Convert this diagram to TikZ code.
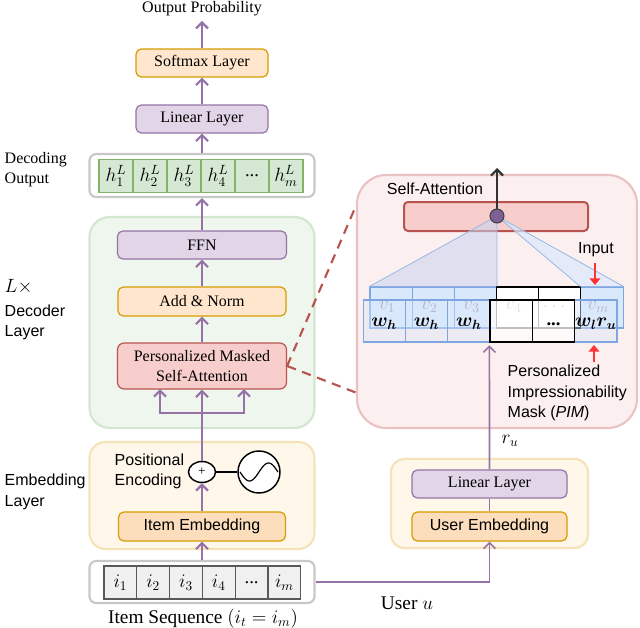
\documentclass[tikz,border=0pt]{standalone}
\usepackage{amsmath}
\usepackage{fontspec}
\setmainfont{Liberation Serif}
\setsansfont{Liberation Sans}
\usetikzlibrary{arrows.meta,calc,shapes.geometric}
\newcommand\myfs{\fontsize{12}{15.5}\selectfont}
\newcommand\mybig{\fontsize{14}{16}\selectfont}
\definecolor{purL}{HTML}{E1D5E7}
\definecolor{purD}{HTML}{9673A6}
\definecolor{oraL}{HTML}{FFE6CC}
\definecolor{oraM}{HTML}{FCDDBC}
\definecolor{oraD}{HTML}{D79B00}
\definecolor{grnL}{HTML}{D5E8D4}
\definecolor{grnD}{HTML}{82B366}
\definecolor{redL}{HTML}{F8CECC}
\definecolor{redD}{HTML}{B85450}
\definecolor{grayB}{HTML}{C8C8C8}
\definecolor{decF}{HTML}{EFF6EE}
\definecolor{decB}{HTML}{D3E6CF}
\definecolor{embF}{HTML}{FFF8EA}
\definecolor{embB}{HTML}{F5E2B8}
\definecolor{bigF}{HTML}{FCEFEF}
\definecolor{bigB}{HTML}{EAC2C2}
\definecolor{bluL}{HTML}{DAE8FC}
\definecolor{bluD}{HTML}{7EA6E0}
\definecolor{fanC}{HTML}{C8D2F0}
\definecolor{vgray}{HTML}{8C8CA8}
\definecolor{arrR}{HTML}{FF3333}
\definecolor{attnC}{HTML}{7E5F96}
\begin{document}
\begin{tikzpicture}[x=0.75pt,y=-0.75pt,font=\myfs,
  sz/.style 2 args={minimum width=#1*0.75pt,minimum height=#2*0.75pt,inner sep=0pt},
  sans/.style={font=\sffamily\myfs},
  big/.style={font=\mybig},
  purplebox/.style={draw=purD,fill=purL,line width=0.9pt,rounded corners=4pt},
  orangebox/.style={draw=oraD,fill=oraL,line width=0.9pt,rounded corners=4pt},
  orangembox/.style={draw=oraD,fill=oraM,line width=0.9pt,rounded corners=4pt},
  redbox/.style={draw=redD,fill=redL,line width=0.9pt,rounded corners=5pt},
  graybox/.style={draw=grayB,fill=white,line width=1.6pt,rounded corners=5pt},
  greencell/.style={draw=grnD,fill=grnL,line width=0.8pt},
  graycell/.style={draw=black!65,fill=black!6,line width=0.8pt},
  arr/.style={draw=purD,line width=1.6pt,-{Straight Barb[length=4.5pt,width=9pt]}},
  plain/.style={draw=purD,line width=1.6pt},
  thinarr/.style={draw=purD,line width=1.2pt,-{Straight Barb[length=4.5pt,width=9pt]}},
  darkarr/.style={draw=black!80,line width=1.6pt,-{Straight Barb[length=4.5pt,width=9pt]}},
  redarr/.style={draw=arrR,line width=2pt,-{Triangle[length=5pt,width=8pt]}},
  dashline/.style={draw=redD,line width=1.6pt,dash pattern=on 7pt off 5pt},
  bluecell/.style={draw=bluD,fill=bluL,line width=0.8pt},
  whitecell/.style={draw=black,fill=white,line width=0.9pt},
  fanline/.style={draw=bluD!80,line width=0.6pt}]
\useasboundingbox (0,0) rectangle (640,628);

% ===== left column =====
\node (outp) at (202,9) {Output Probability};
\node[sz={132}{28},orangebox] (soft) at (202,63) {Softmax Layer};
\node[sz={132}{28},purplebox] (lin) at (202,119) {Linear Layer};
\node[sz={225}{43},graybox] (dec) at (202,175.5) {};
\foreach \i in {0,...,5}
  \node[sz={34}{33},greencell] (h\i) at (116+34*\i,176) {};
\foreach \i/\t in {0/{h_1^L},1/{h_2^L},2/{h_3^L},3/{h_4^L},4/{\text{...}},5/{h_m^L}}
  \node[big,inner sep=0pt] (hl\i) at (h\i) {$\t$};

\node[sz={225}{211},draw=decB,fill=decF,line width=1.6pt,rounded corners=15pt] (declayer) at (202,322.5) {};
\node[sz={169}{28},purplebox] (ffn) at (202,245) {FFN};
\node[sz={168}{29},orangebox] (add) at (202,301.5) {Add \& Norm};
\node[sz={169}{46},redbox,align=center] (pmsa) at (202,366) {Personalized Masked\\Self-Attention};

\node[sz={225}{107},draw=embB,fill=embF,line width=1.6pt,rounded corners=12pt] (emb) at (202,495.5) {};
\node[sz={167}{29},orangembox,sans] (iemb) at (202,526.5) {Item Embedding};
\node[ellipse,sz={27}{21},draw=black,fill=white,line width=1.1pt,font=\fontsize{10}{12}\selectfont] (plus) at (202,472) {+};
\node[circle,minimum size=42*0.75pt,inner sep=0pt,draw=black,fill=white,line width=1.1pt] (sine) at (259,472) {};
\draw[line width=0.9pt] plot[domain=-19:19,samples=60] ({259+\x},{472-9*sin(9.47*\x)});
\draw[line width=1.8pt] (plus.east) -- (sine.west);
\node[sans,anchor=west,align=left] (pe) at (110,471.5) {Positional\\Encoding};

\node[sz={225}{42},graybox] (seq) at (202,582) {};
\foreach \i in {0,...,5}
  \node[sz={32.8}{33},graycell] (s\i) at (120.4+32.8*\i,582.5) {};
\foreach \i/\t in {0/{i_1},1/{i_2},2/{i_3},3/{i_4},4/{\text{...}},5/{i_m}}
  \node[big,inner sep=0pt] (sl\i) at (s\i) {$\t$};
\node[font=\fontsize{14.5}{17}\selectfont] (seqlab) at (203,619) {Item Sequence $(i_t = i_m)$};

% left labels
\node[anchor=west,align=left] (declab) at (0,169.5) {Decoding\\Output};
\node[anchor=west,font=\fontsize{15}{17}\selectfont] (lx) at (0,287) {$L\times$};
\node[sans,anchor=west,align=left] (dlab) at (0,322.5) {Decoder\\Layer};
\node[sans,anchor=west,align=left] (elab) at (0,492) {Embedding\\Layer};

% left arrows
\draw[arr] (soft.north) -- (outp.south);
\draw[arr] (lin.north) -- (soft.south);
\draw[arr] (dec.north) -- (lin.south);
\draw[arr] (ffn.north) -- (dec.south);
\draw[arr] (add.north) -- (ffn.south);
\draw[arr] (pmsa.north) -- (add.south);
\coordinate (jn) at (202,413);
\coordinate (pl) at (160,389);
\coordinate (pr) at (244,389);
\draw[plain] (plus.north) -- (jn);
\draw[arr] (jn) -- (pmsa.south);
\draw[arr] (jn) -| (pl);
\draw[arr] (jn) -| (pr);
\draw[arr] (iemb.north) -- (plus.south);
\draw[arr] (seq.north) -- (iemb.south);

% ===== user side =====
\node[sz={197}{89},draw=embB,fill=embF,line width=1.6pt,rounded corners=10pt] (ubox) at (489.5,503.5) {};
\node[sz={155}{28},purplebox] (ulin) at (489.5,484) {Linear Layer};
\node[sz={155}{29},orangembox,sans] (uemb) at (489.5,526.5) {User Embedding};
\node[font=\fontsize{14.5}{17}\selectfont] (ulab) at (407,603) {User $u$};
\draw[thinarr] (seq.east) -| (uemb.south);
\draw[draw=purD,line width=1.2pt] (uemb.north) -- (ulin.south);

% ===== zoom box =====
\node[sz={280}{253},draw=bigB,fill=bigF,line width=1.6pt,rounded corners=22pt] (bigbox) at (497,301.5) {};
\node[sz={184}{29},draw=redD,fill=redL,line width=1.5pt,rounded corners=3pt] (bar) at (496,216.5) {};
\node[sans] (salab) at (435,189) {Self-Attention};
\coordinate (satop) at (497,168);
\coordinate (attnc) at (497,216);

% back row
\foreach \i in {1,2,3,6}
  \node[sz={42.17}{41},bluecell] (b\i) at (391.1+42.17*\i-42.17,307.5) {};
\foreach \i in {4,5}
  \node[sz={42.17}{41},whitecell] (b\i) at (391.1+42.17*\i-42.17,307.5) {};
% fan
\fill[fanC,opacity=0.55] (attnc) -- (b1.north west) -- (b3.north east) -- cycle;
\fill[bluL,opacity=0.7] (attnc) -- (b6.north west) -- (b6.north east) -- cycle;
\draw[fanline] (attnc) -- (b1.north west);
\draw[fanline] (attnc) -- (b3.north east);
\draw[fanline] (attnc) -- (b6.north west);
\draw[fanline] (attnc) -- (b6.north east);
\draw[darkarr] (attnc) -- (satop);
\node[circle,minimum size=14*0.75pt,inner sep=0pt,draw=black!75,fill=attnC,line width=0.8pt] (attn) at (attnc) {};

\foreach \i/\t in {1/{v_1},2/{v_2},3/{v_3},4/{v_4},5/{\cdots},6/{v_m}}
  \node[text=vgray,big,inner sep=0pt] (vl\i) at (391.1+42.17*\i-42.17-4,307) {$\t$};

% front row
\foreach \i in {1,2,3,6}
  \node[sz={42.33}{42},draw=bluD,fill=bluL,fill opacity=0.45,line width=0.8pt] (f\i) at (384.2+42.33*\i-42.33,321) {};
\foreach \i in {4,5}
  \node[sz={42.33}{42},draw=black,fill=white,fill opacity=0.75,line width=0.9pt] (f\i) at (384.2+42.33*\i-42.33,321) {};
\foreach \i/\t in {1/{\boldsymbol{w_h}},2/{\boldsymbol{w_h}},3/{\boldsymbol{w_h}},5/{\textbf{...}},6/{\boldsymbol{w_l r_u}}}
  \node[big,inner sep=0pt] (wl\i) at (384.2+42.33*\i-42.33,324) {$\t$};

\draw[thinarr,shorten >=2pt] (ulin.north) -- (f4.south west);
\node[big] (rul) at (510,441) {$r_u$};

% red arrows and labels
\node[sans] (inlab) at (596,250) {Input};
\coordinate (ia) at (595,263);
\coordinate (ib) at (595,285);
\draw[redarr] (ia) -- (ib);
\coordinate (ma) at (594,362);
\coordinate (mb) at (594,345);
\draw[redarr] (ma) -- (mb);
\node[sans,anchor=west,align=left] (pim) at (503,393) {Personalized\\Impressionability\\Mask (\textit{PIM})};

% dashed connectors
\coordinate (z1) at (355,208);
\coordinate (z2) at (357,393);
\draw[dashline] (pmsa.east) -- (z1);
\draw[dashline] (pmsa.east) -- (z2);
\end{tikzpicture}
\end{document}
